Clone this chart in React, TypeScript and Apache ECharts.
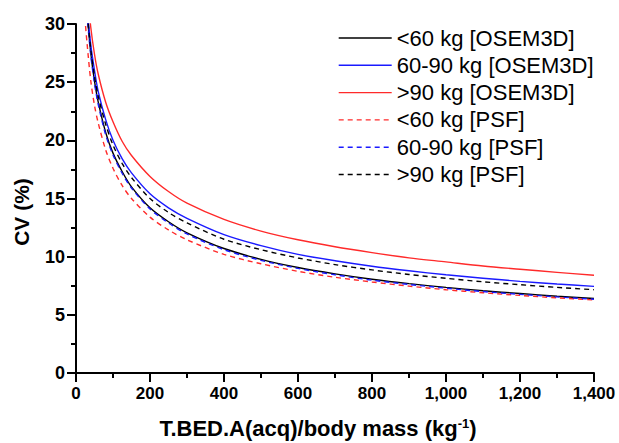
import React, { useEffect, useRef } from "react";
import * as echarts from "echarts";

const xValues = [20, 25, 30, 40, 50, 60, 80, 100, 125, 150, 200, 250, 300, 400, 500, 600, 700, 800, 900, 1000, 1100, 1200, 1300, 1400];

const lt60Osem = [36.6, 33.4, 31.0, 27.5, 25.1, 23.3, 20.7, 18.9, 17.3, 16.0, 14.2, 13.0, 12.05, 10.7, 9.77, 9.07, 8.52, 8.06, 7.68, 7.36, 7.07, 6.83, 6.6, 6.4];
const mid60Osem = [36.6, 33.6, 31.4, 28.2, 26.0, 24.2, 21.8, 20.0, 18.4, 17.2, 15.4, 14.2, 13.3, 11.9, 10.95, 10.2, 9.65, 9.18, 8.79, 8.44, 8.15, 7.88, 7.65, 7.45];
const gt90Osem = [38.0, 35.2, 33.0, 29.7, 27.4, 25.7, 23.3, 21.6, 19.9, 18.7, 16.9, 15.6, 14.6, 13.2, 12.2, 11.45, 10.85, 10.35, 9.9, 9.55, 9.2, 8.92, 8.65, 8.4];
const lt60Psf = [32.9, 30.2, 28.3, 25.1, 23.0, 21.5, 19.2, 17.6, 16.1, 15.0, 13.4, 12.3, 11.45, 10.2, 9.39, 8.74, 8.23, 7.82, 7.47, 7.16, 6.9, 6.67, 6.46, 6.28];
const mid60Psf = [36.3, 33.1, 30.7, 27.3, 24.9, 23.1, 20.5, 18.75, 17.15, 15.9, 14.1, 12.9, 11.95, 10.6, 9.68, 8.99, 8.44, 7.98, 7.61, 7.29, 7.0, 6.76, 6.54, 6.34];
const gt90Psf = [36.2, 33.3, 31.1, 27.8, 25.5, 23.8, 21.4, 19.6, 18.0, 16.8, 15.0, 13.8, 12.9, 11.5, 10.6, 9.89, 9.32, 8.86, 8.47, 8.14, 7.84, 7.59, 7.36, 7.16];

const seriesNames = [
  "<60 kg [OSEM3D]",
  "60-90 kg [OSEM3D]",
  ">90 kg [OSEM3D]",
  "<60 kg [PSF]",
  "60-90 kg [PSF]",
  ">90 kg [PSF]",
];
const seriesValues = [lt60Osem, mid60Osem, gt90Osem, lt60Psf, mid60Psf, gt90Psf];
const seriesColors = ["#000000", "#1a1aff", "#ff2a2a", "#ff2a2a", "#1a1aff", "#000000"];
const seriesDashed = [false, false, false, true, true, true];

const FONT = "'Liberation Sans', Arial, sans-serif";

export default function App() {
  const ref = useRef<HTMLDivElement>(null);
  useEffect(() => {
    if (!ref.current) return;
    const chart = echarts.init(ref.current, null, { renderer: "svg" });
    const series = seriesNames.map((name, i) => ({
      name,
      type: "line",
      data: xValues.map((x, j) => [x, seriesValues[i][j]]),
      smooth: 0.3,
      symbol: "none",
      showSymbol: false,
      clip: true,
      lineStyle: {
        color: seriesColors[i],
        width: 1.4,
        type: seriesDashed[i] ? [5, 4] : "solid",
      },
      itemStyle: { color: seriesColors[i] },
    }));
    chart.setOption({
      animation: false,
      backgroundColor: "#ffffff",
      grid: { left: 76, right: 25, top: 24, bottom: 70 },
      legend: {
        orient: "vertical",
        left: 333,
        top: 22,
        itemWidth: 53,
        itemHeight: 14,
        itemGap: 5.3,
        itemStyle: { opacity: 0 },
        lineStyle: { width: 1.4 },
        textStyle: { fontFamily: FONT, fontSize: 22, color: "#000", padding: [0, 0, 0, 0] },
        data: seriesNames,
      },
      xAxis: {
        type: "value",
        min: 0,
        max: 1400,
        interval: 200,
        axisLine: { show: true, lineStyle: { color: "#000", width: 2 } },
        axisTick: { show: true, length: 9, lineStyle: { color: "#000", width: 2 } },
        minorTick: { show: true, splitNumber: 2, length: 5, lineStyle: { color: "#000", width: 2 } },
        splitLine: { show: false },
        axisLabel: {
          fontFamily: FONT,
          fontWeight: "bold",
          fontSize: 17,
          color: "#000",
          margin: 12,
          formatter: (v: number) => v.toLocaleString("en-US"),
        },
      },
      yAxis: {
        type: "value",
        min: 0,
        max: 30,
        interval: 5,
        axisLine: { show: true, lineStyle: { color: "#000", width: 2 } },
        axisTick: { show: true, length: 9, lineStyle: { color: "#000", width: 2 } },
        minorTick: { show: true, splitNumber: 2, length: 5, lineStyle: { color: "#000", width: 2 } },
        splitLine: { show: false },
        axisLabel: {
          fontFamily: FONT,
          fontWeight: "bold",
          fontSize: 18,
          color: "#000",
          margin: 11,
        },
      },
      graphic: [
        {
          type: "text",
          x: 21,
          y: 212,
          rotation: Math.PI / 2,
          style: {
            text: "CV (%)",
            fontFamily: FONT,
            fontWeight: "bold",
            fontSize: 21,
            fill: "#000",
            align: "center",
            verticalAlign: "middle",
          },
        },
        {
          type: "text",
          x: 318,
          y: 428,
          style: {
            text: "T.BED.A(acq)/body mass (kg{sup|-1})",
            fontFamily: FONT,
            fontWeight: "bold",
            fontSize: 22,
            fill: "#000",
            align: "center",
            verticalAlign: "middle",
            rich: {
              sup: {
                fontFamily: FONT,
                fontWeight: "bold",
                fontSize: 13,
                fill: "#000",
                padding: [0, 0, 10, 0],
              },
            },
          },
        },
      ],
      series,
    });
    return () => chart.dispose();
  }, []);
  return <div ref={ref} style={{ width: 619, height: 443, position: "absolute", left: 0, top: 0 }} />;
}
